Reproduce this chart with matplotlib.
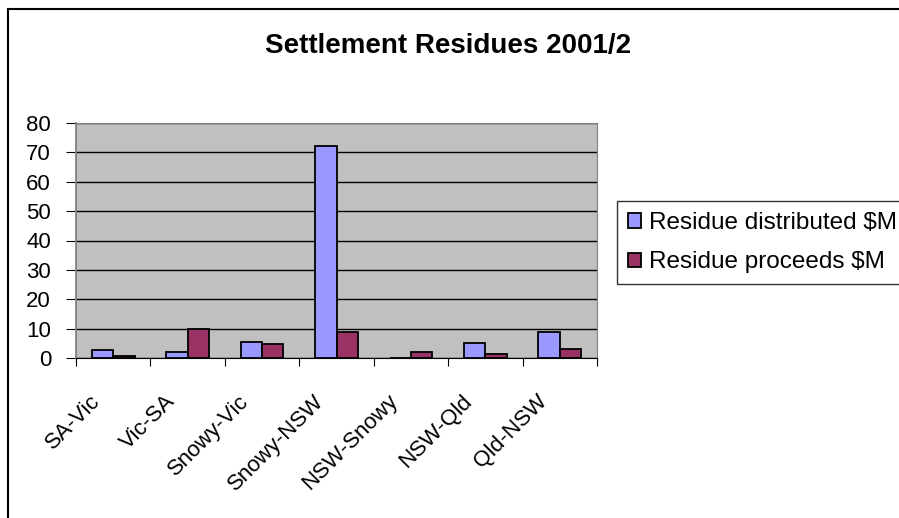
import matplotlib
matplotlib.use("Agg")
import matplotlib.pyplot as plt
import matplotlib.transforms as mtransforms
from matplotlib.lines import Line2D
import numpy as np

categories = ["SA-Vic", "Vic-SA", "Snowy-Vic", "Snowy-NSW", "NSW-Snowy", "NSW-Qld", "Qld-NSW"]
distributed = [2.6, 1.9, 5.6, 72.3, 0.0, 5.1, 8.8]
proceeds = [0.6, 10.0, 4.6, 8.8, 2.0, 1.3, 3.1]
series_names = ["Residue distributed $M", "Residue proceeds $M"]
yticks = [0, 10, 20, 30, 40, 50, 60, 70, 80]

plt.rcParams['font.family'] = ['Liberation Sans', 'DejaVu Sans']

W, H = 899, 518
fig = plt.figure(figsize=(W/100, H/100), dpi=100)
# chart area border (left and top visible, continues past right/bottom)
fig.add_artist(Line2D([8/W, 8/W], [0, 1 - 9/H], transform=fig.transFigure, color='black', lw=1.5))
fig.add_artist(Line2D([8/W, 1], [1 - 9/H, 1 - 9/H], transform=fig.transFigure, color='black', lw=1.5))

left, right, top, bottom = 76, 597, 123, 358
ax = fig.add_axes([left/W, 1-bottom/H, (right-left)/W, (bottom-top)/H])
ax.set_facecolor('#C0C0C0')

x = np.arange(len(categories))
bw = 0.286
b1 = ax.bar(x - bw/2, distributed, bw, color='#9999FF', edgecolor='black', linewidth=1.3, label=series_names[0], zorder=3)
b2 = ax.bar(x + bw/2, proceeds, bw, color='#993366', edgecolor='black', linewidth=1.3, label=series_names[1], zorder=3)

ax.set_xlim(-0.5, len(categories)-0.5)
ax.set_ylim(0, 80)
ax.set_yticks(yticks)
ax.set_yticklabels([str(t) for t in yticks], fontsize=16)
ax.yaxis.grid(True, color='black', linewidth=1, zorder=0)
ax.set_axisbelow(True)
ax.set_xticks(np.arange(len(categories)+1) - 0.5)
ax.set_xticklabels([])

# rotated category labels placed via the x-axis transform with a pixel offset
base = ax.get_xaxis_transform()
offset = mtransforms.ScaledTranslation(-16/100, -40/100, fig.dpi_scale_trans)
for xi, name in zip(x, categories):
    ax.text(xi, 0, name, transform=base + offset, rotation=45, ha='right', va='center',
            rotation_mode='anchor', fontsize=16, clip_on=False)

ax.tick_params(axis='x', length=6, direction='out', color='black')
ax.tick_params(axis='y', length=7, direction='out', color='black', pad=11)
for s in ['top', 'right', 'left']:
    ax.spines[s].set_color('#808080')
ax.spines['bottom'].set_color('black')
ax.spines['left'].set_linewidth(1.3)

fig.text(448/W, 1 - 46/H, "Settlement Residues 2001/2", ha='center', va='center',
         fontsize=20, fontweight='bold')

leg = fig.legend(handles=[b1, b2], labels=series_names, loc='upper left',
                 bbox_to_anchor=(617/W, 1-201/H), fontsize=17.5, frameon=True,
                 fancybox=False, edgecolor='black', handlelength=0.55, handleheight=0.55,
                 handletextpad=0.3, borderaxespad=0, labelspacing=0.72, borderpad=0.45)
leg.get_frame().set_linewidth(1)

fig.savefig("out.png", dpi=100)
